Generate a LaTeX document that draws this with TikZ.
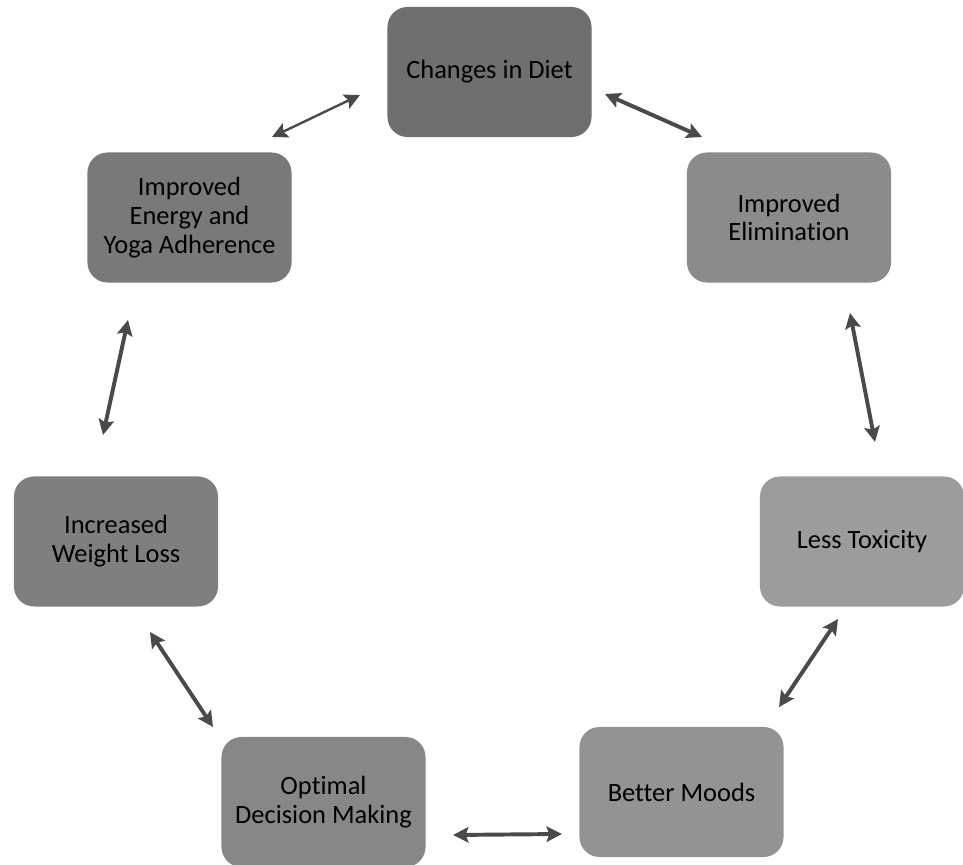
\documentclass[tikz,border=0pt]{standalone}
\usepackage{fontspec}
\setmainfont[Ligatures=NoCommon]{Carlito}
\usetikzlibrary{arrows.meta}

\definecolor{boxA}{HTML}{6F6F6F}
\definecolor{boxB}{HTML}{8B8B8B}
\definecolor{boxC}{HTML}{9C9C9C}
\definecolor{boxD}{HTML}{939393}
\definecolor{boxE}{HTML}{878787}
\definecolor{boxF}{HTML}{7F7F7F}
\definecolor{boxG}{HTML}{797979}
\definecolor{arrowgray}{HTML}{4A4A4A}

\tikzset{
    stagebox/.style={rectangle, rounded corners=0.5cm, minimum width=5.1cm,
        minimum height=3.25cm, align=center, text=black,
        font=\fontsize{18.8}{20.5}\selectfont},
    link/.style={draw=arrowgray, line width=2.8pt,
        {Stealth[length=11pt,width=11pt,inset=2pt]}-{Stealth[length=11pt,width=11pt,inset=2pt]}},
    thinlink/.style={link, line width=1.7pt}
}

\begin{document}
\begin{tikzpicture}[x=0.025cm, y=-0.025cm]
                \useasboundingbox (0,0) rectangle (963,865);

                % Stages of the cycle
                \node[stagebox, fill=boxA] (diet) at (489.5,72) {Changes in Diet};
                \node[stagebox, fill=boxB] (elim) at (789,217.5) {Improved\\Elimination};
                \node[stagebox, fill=boxC] (tox) at (862,541.5) {Less Toxicity};
                \node[stagebox, fill=boxD] (mood) at (681.5,792) {Better Moods};
                \node[stagebox, fill=boxE] (decide) at (323.5,802) {Optimal\\Decision Making};
                \node[stagebox, fill=boxF] (weight) at (116,541.5) {Increased\\Weight Loss};
                \node[stagebox, fill=boxG] (energy) at (189.5,217.5) {Improved\\Energy and\\Yoga Adherence};

                % Arrow ends (gaps between the boxes)
                \coordinate (dietR) at (605,94);
                \coordinate (elimT) at (702,137);
                \coordinate (elimB) at (850,313);
                \coordinate (toxT) at (875,442);
                \coordinate (toxB) at (838,619);
                \coordinate (moodT) at (779,707);
                \coordinate (moodL) at (562,834);
                \coordinate (decideR) at (453,835);
                \coordinate (decideT) at (213,727);
                \coordinate (weightB) at (150,632);
                \coordinate (weightT) at (103,435);
                \coordinate (energyB) at (128,320);
                \coordinate (energyT) at (272,137);
                \coordinate (dietL) at (360,95);

                % Two-way arrows
                \draw[link] (dietR) -- (elimT);
                \draw[link] (elimB) -- (toxT);
                \draw[link] (toxB) -- (moodT);
                \draw[link] (moodL) -- (decideR);
                \draw[link] (decideT) -- (weightB);
                \draw[link] (weightT) -- (energyB);
                \draw[thinlink] (energyT) -- (dietL);

            \end{tikzpicture}
\end{document}
